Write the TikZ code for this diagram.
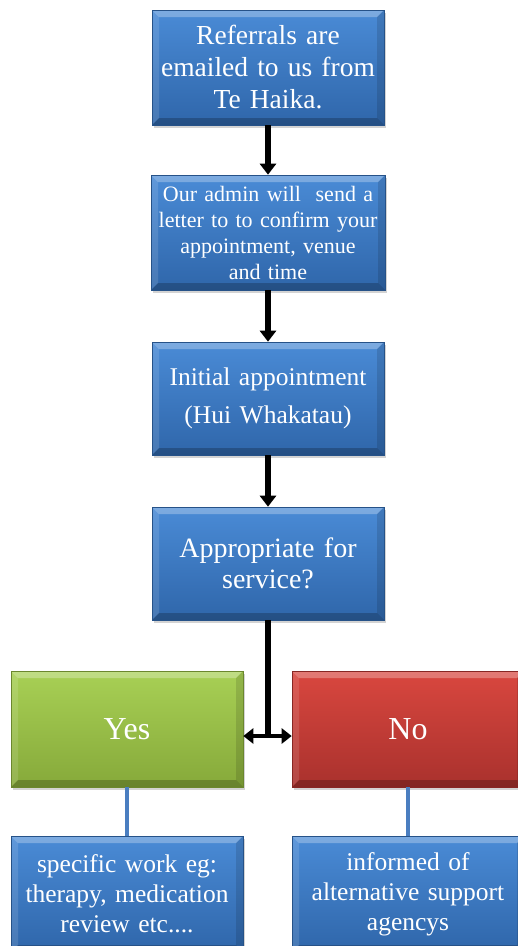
\documentclass[tikz,border=0pt]{standalone}
\usepackage{fontspec}
\setmainfont{Liberation Serif}
\usetikzlibrary{arrows.meta,shadows}
\definecolor{bluetop}{HTML}{4A8BD6}
\definecolor{bluebot}{HTML}{2F66AA}
\definecolor{greentop}{HTML}{A8D055}
\definecolor{greenbot}{HTML}{86A93A}
\definecolor{redtop}{HTML}{D9473F}
\definecolor{redbot}{HTML}{A9312D}
\definecolor{linkblue}{HTML}{4A7EC0}
\tikzset{
  bevel/.style={path picture={
    \fill[white,opacity=0.28] (path picture bounding box.north west) -- (path picture bounding box.north east) -- ([shift={(-7pt,-7pt)}]path picture bounding box.north east) -- ([shift={(7pt,-7pt)}]path picture bounding box.north west) -- cycle;
    \fill[white,opacity=0.12] (path picture bounding box.north west) -- (path picture bounding box.south west) -- ([shift={(7pt,7pt)}]path picture bounding box.south west) -- ([shift={(7pt,-7pt)}]path picture bounding box.north west) -- cycle;
    \fill[black,opacity=0.12] (path picture bounding box.north east) -- (path picture bounding box.south east) -- ([shift={(-7pt,7pt)}]path picture bounding box.south east) -- ([shift={(-7pt,-7pt)}]path picture bounding box.north east) -- cycle;
    \fill[black,opacity=0.22] (path picture bounding box.south west) -- (path picture bounding box.south east) -- ([shift={(-7pt,7pt)}]path picture bounding box.south east) -- ([shift={(7pt,7pt)}]path picture bounding box.south west) -- cycle;
  }},
  card/.style={rectangle, bevel, minimum width=232pt, text=white, align=center,
    inner sep=2pt, drop shadow={opacity=0.35, shadow xshift=2pt, shadow yshift=-3pt},
    draw=#1bot!80!black, line width=0.6pt},
  bluecard/.style={card=blue, top color=bluetop, bottom color=bluebot},
  greencard/.style={card=green, top color=greentop, bottom color=greenbot},
  redcard/.style={card=red, top color=redtop, bottom color=redbot},
  flow/.style={line width=5.5pt, -{Triangle[length=11pt,width=16pt]}},
  link/.style={line width=4.5pt, draw=linkblue},
}
\begin{document}
\begin{tikzpicture}[x=1pt,y=-1pt]
\useasboundingbox (0,0) rectangle (518,946);
\clip (0,0) rectangle (518,946);
\node[bluecard, minimum height=115pt, text width=228pt, font=\fontsize{27.5}{32}\selectfont] (b1) at (268,67.5) {Referrals are\\emailed to us from\\Te Haika.};
\node[bluecard, minimum height=115pt, text width=230pt, font=\fontsize{22}{26}\selectfont] (b2) at (268,232.5) {Our admin will\ \ send a\\letter to to confirm your\\appointment, venue\\and time};
\node[bluecard, minimum height=113pt, text width=228pt, font=\fontsize{25.5}{38}\selectfont] (b3) at (268,398.5) {Initial appointment\\(Hui Whakatau)};
\node[bluecard, minimum height=113pt, text width=228pt, font=\fontsize{28}{31}\selectfont] (b4) at (268,563.5) {Appropriate for\\service?};
\node[greencard, minimum height=116pt, font=\fontsize{32}{36}\selectfont] (yes) at (127,729) {Yes};
\node[redcard, minimum height=116pt, font=\fontsize{32}{36}\selectfont] (no) at (408,729) {No};
\node[bluecard, minimum height=116pt, text width=228pt, font=\fontsize{25.5}{30}\selectfont] (s1) at (127,894) {specific work eg:\\therapy, medication\\review etc....};
\node[bluecard, minimum height=116pt, text width=228pt, font=\fontsize{25.5}{30}\selectfont] (s2) at (408,894) {informed of\\alternative support\\agencys};
\coordinate (j) at (268,736);
\draw[flow] (b1.south) -- (b2.north);
\draw[flow] (b2.south) -- (b3.north);
\draw[flow] (b3.south) -- (b4.north);
\draw[line width=5.5pt] (b4.south) -- (j);
\draw[line width=4pt, {Triangle[length=10pt,width=15pt]}-{Triangle[length=10pt,width=15pt]}] (yes.east |- j) -- (no.west |- j);
\draw[link] (yes.south) -- (s1.north);
\draw[link] (no.south) -- (s2.north);
\end{tikzpicture}
\end{document}
